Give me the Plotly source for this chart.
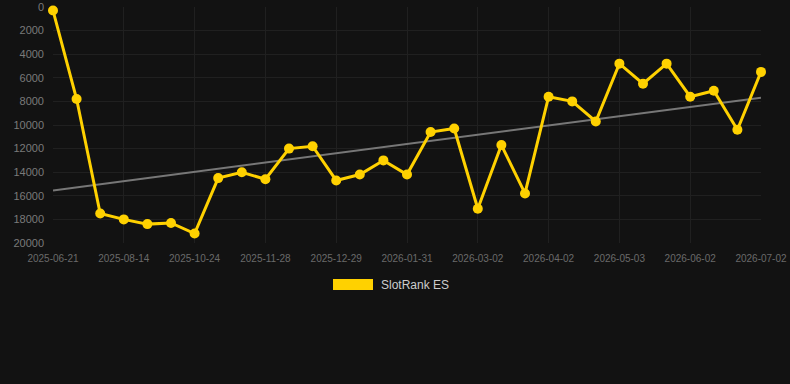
import numpy as np
import plotly.graph_objects as go

dates = ["2025-06-21", "2025-07-08", "2025-07-27", "2025-08-14", "2025-09-05", "2025-09-28",
         "2025-10-24", "2025-11-05", "2025-11-16", "2025-11-28", "2025-12-08", "2025-12-18",
         "2025-12-29", "2026-01-09", "2026-01-20", "2026-01-31", "2026-02-10", "2026-02-20",
         "2026-03-02", "2026-03-12", "2026-03-23", "2026-04-02", "2026-04-12", "2026-04-23",
         "2026-05-03", "2026-05-13", "2026-05-23", "2026-06-02", "2026-06-12", "2026-06-22",
         "2026-07-02"]
rank = [300, 7800, 17500, 18000, 18400, 18300, 19200, 14500, 14000, 14600, 12000, 11800,
        14700, 14200, 13000, 14200, 10600, 10300, 17100, 11700, 15800, 7600, 8000, 9700,
        4800, 6500, 4800, 7600, 7100, 10400, 5500]
series_name = "SlotRank ES"
y_ticks = [0, 2000, 4000, 6000, 8000, 10000, 12000, 14000, 16000, 18000, 20000]

idx = np.arange(len(rank))
slope, intercept = np.polyfit(idx, rank, 1)
trend = slope * idx + intercept

YELLOW = "#FFD100"
BG = "#121212"

fig = go.Figure()
fig.add_trace(go.Scatter(x=dates, y=trend, mode="lines",
                         line=dict(color="#777777", width=2), showlegend=False,
                         hoverinfo="skip"))
fig.add_trace(go.Scatter(x=dates, y=rank, mode="lines+markers", name=series_name,
                         line=dict(color=YELLOW, width=3),
                         marker=dict(color=YELLOW, size=10), showlegend=False,
                         cliponaxis=False))

tickvals = dates[::3]
fig.update_layout(
    width=790, height=384,
    margin=dict(l=53, r=29, t=7, b=141),
    paper_bgcolor=BG, plot_bgcolor=BG,
    font=dict(family="Liberation Sans, Arial, sans-serif"),
    xaxis=dict(type="category", range=[0, len(dates) - 1], tickvals=tickvals,
               ticktext=tickvals, showgrid=True, gridcolor="#202020", gridwidth=1,
               zeroline=False, showline=False, ticks="", automargin=False,
               tickfont=dict(size=10, color="#6a6a6a"), tickangle=0,
               ticklabelstandoff=8),
    yaxis=dict(range=[20000, 0], tickvals=y_ticks, ticktext=[str(v) for v in y_ticks],
               showgrid=True, gridcolor="#202020",
               gridwidth=1, zeroline=False, showline=False, ticks="", automargin=False,
               tickfont=dict(size=11, color="#7a7a7a"), ticklabelstandoff=8),
    shapes=[dict(type="rect", xref="paper", yref="paper",
                 x0=(333 - 53) / 708, x1=(373 - 53) / 708,
                 y0=(243 - 290) / 236, y1=(243 - 279) / 236,
                 fillcolor=YELLOW, line=dict(width=0))],
    annotations=[dict(text=series_name, xref="paper", yref="paper",
                      x=(379 - 53) / 708, y=(243 - 284.5) / 236,
                      xanchor="left", yanchor="middle", showarrow=False,
                      font=dict(size=12, color="#cccccc"))],
)

fig.write_html("out.html")
